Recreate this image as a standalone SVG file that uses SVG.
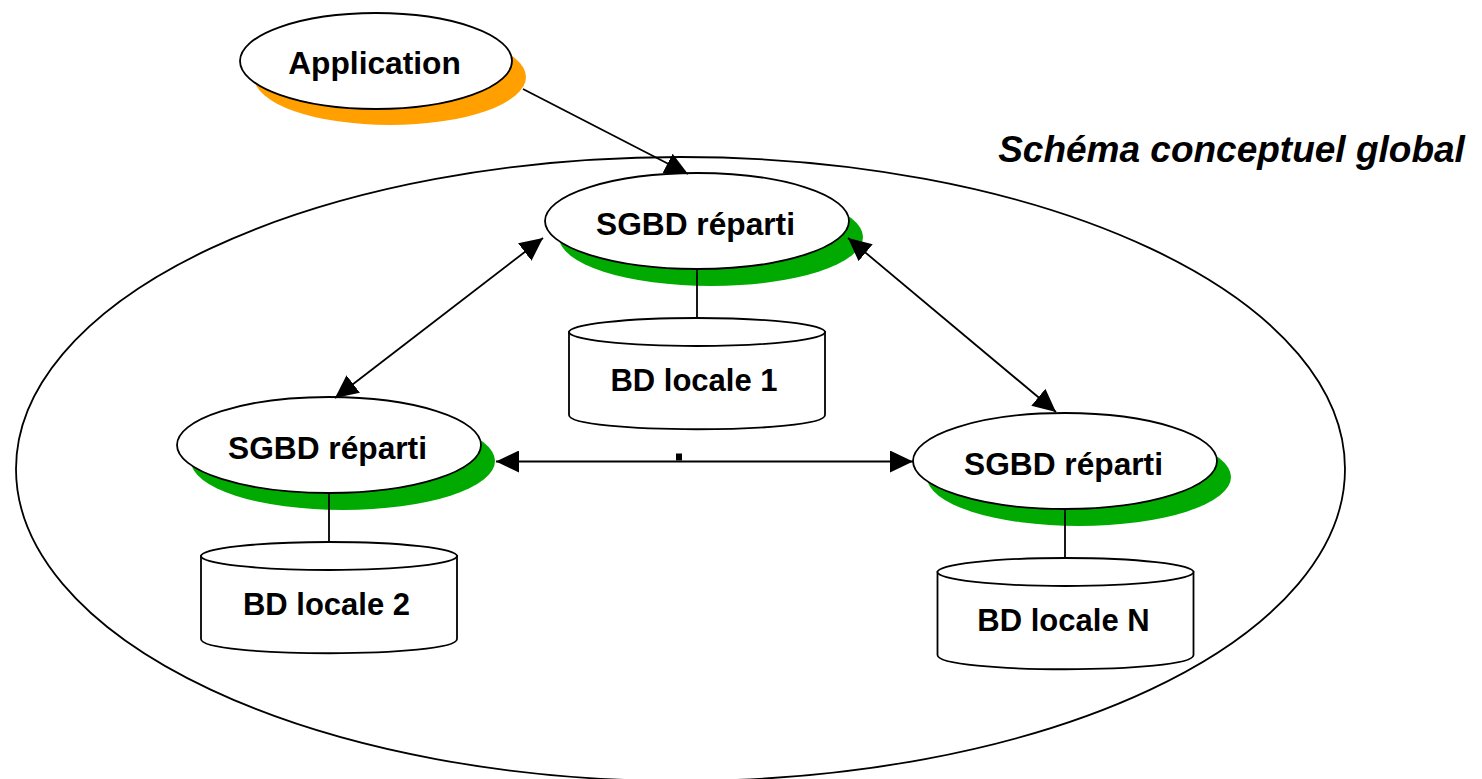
<svg xmlns="http://www.w3.org/2000/svg" width="1482" height="779" viewBox="0 0 1482 779">
<style>
text{font-family:"Liberation Sans",Arial,sans-serif;font-weight:bold;font-size:31.700px;fill:#000;text-anchor:middle}
.bd{font-size:31px}
.o{fill:#fff;stroke:#000;stroke-width:1.800}
.l{fill:none;stroke:#000;stroke-width:1.800}
.g{fill:#00aa00}
</style>
<defs>
<marker id="a" markerUnits="userSpaceOnUse" markerWidth="24" markerHeight="22" refX="23" refY="11" orient="auto-start-reverse"><path d="M0 0L23 11L0 22Z" fill="#000"/></marker>
<g id="cyl"><path class="o" d="M0 14V97C0 116 256 116 256 97V14Z"/><ellipse class="o" cx="128" cy="14" rx="128" ry="14"/></g>
</defs>
<ellipse class="o" cx="680.500" cy="469" rx="664.500" ry="312"/>
<g id="application"><ellipse cx="390" cy="77" rx="136" ry="48" fill="#ffa000"/><ellipse class="o" cx="376" cy="61" rx="136" ry="48"/><text x="374.500" y="74">Application</text></g>
<g id="sgbd1"><ellipse class="g" cx="711" cy="237" rx="152" ry="49"/><ellipse class="o" cx="697" cy="221" rx="152" ry="48"/><text x="695.500" y="234.500">SGBD réparti</text></g>
<g id="sgbd2"><ellipse class="g" cx="343" cy="461" rx="152" ry="49"/><ellipse class="o" cx="329" cy="445" rx="152" ry="48"/><text x="327.500" y="458.500">SGBD réparti</text></g>
<g id="sgbd3"><ellipse class="g" cx="1079" cy="477" rx="152" ry="49"/><ellipse class="o" cx="1065" cy="461" rx="152" ry="48"/><text x="1063.500" y="474.500">SGBD réparti</text></g>
<g id="bd1"><use href="#cyl" x="569" y="318"/><text class="bd" x="694" y="391">BD locale 1</text></g>
<g id="bd2"><use href="#cyl" x="201" y="542"/><text class="bd" x="326.500" y="615">BD locale 2</text></g>
<g id="bdn"><use href="#cyl" x="937.500" y="558"/><text class="bd" x="1063.500" y="631">BD locale N</text></g>
<g id="connectors">
<path class="l" d="M523 89L688 174" marker-end="url(#a)"/>
<path class="l" d="M543 238L335 398" marker-start="url(#a)" marker-end="url(#a)"/>
<path class="l" d="M848 238L1056 412" marker-start="url(#a)" marker-end="url(#a)"/>
<path class="l" d="M496 461.500H913" marker-start="url(#a)" marker-end="url(#a)"/>
<path class="l" d="M697 270V318M329 494V542M1065 510V558"/>
<rect x="676" y="453.500" width="6" height="7"/>
</g>
<text x="1231.500" y="162" style="font-style:italic;font-size:37px">Schéma conceptuel global</text>
</svg>
